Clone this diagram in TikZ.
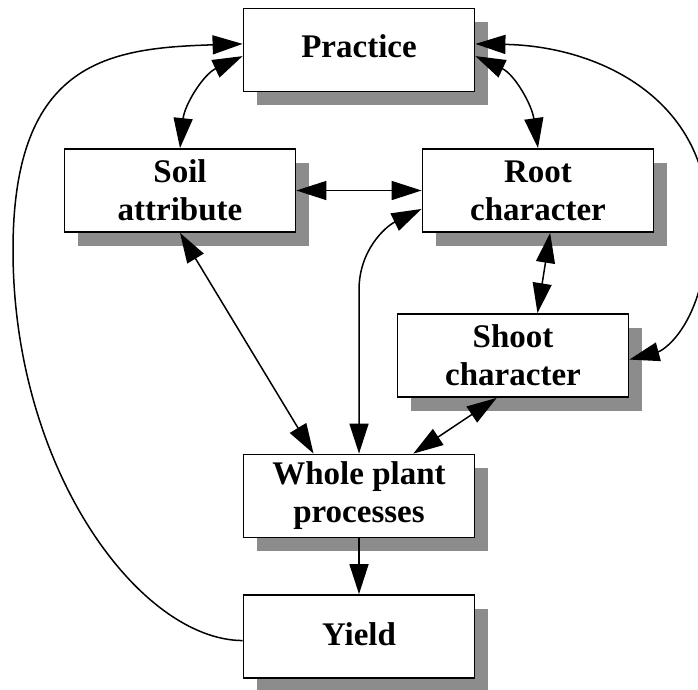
\documentclass[tikz,border=0pt]{standalone}
\usepackage{fontspec}
\setmainfont{Liberation Serif}
\usetikzlibrary{arrows.meta,shadows}

\begin{document}
\begin{tikzpicture}[x=1pt,y=1pt,
    box/.style={draw,line width=1.8pt,fill=white,minimum width=231pt,minimum height=83pt,inner sep=0pt,align=center,
        font=\fontsize{33}{38}\selectfont\bfseries,
        drop shadow={shadow xshift=13.5pt,shadow yshift=-13.5pt,fill=black!45,opacity=1}},
    link/.style={line width=1.5pt,>={Triangle[length=30pt,width=19pt]}}]
    \useasboundingbox (0,0) rectangle (698,-689);
        \node at (359,-50) [box,text depth=7pt] (practice) {Practice};
        \node at (180,-190.5) [box] (soil) {Soil\\attribute};
        \node at (538,-190.5) [box] (root) {Root\\character};
        \node at (513,-355.5) [box] (shoot) {Shoot\\character};
        \node at (359,-496) [box] (whole) {Whole plant\\processes};
        \node at (359,-636.5) [box,text depth=5pt] (yield) {Yield};
        \coordinate (westbend) at (13,-250);
        \coordinate (eastbend) at (708,-220);
        \coordinate (rootbend) at (359,-290);
        \draw[link,<->] (soil.north) to[out=84,in=205] (practice.183);
        \draw[link,<->] (practice.357) to[out=-25,in=98] (root.north);
        \draw[link,<->] (soil.east) -- (root.west);
        \draw[link,<->] (soil.south) -- (whole.137);
        \draw[link,<->] (whole.north) -- (rootbend) to[out=90,in=206] (root.189);
        \draw[link,<->] (root.286) -- (shoot.60);
        \draw[link,<->] (shoot.249) -- (whole.38);
        \draw[link,->] (whole.south) -- (yield.north);
        \draw[link,->] (yield.182) .. controls (140,-640) and (13,-470) .. (westbend) .. controls (13,-60) and (110,-48) .. (practice.177);
        \draw[link,<->] (practice.3) .. controls (600,-46) and (708,-100) .. (eastbend) .. controls (708,-320) and (665,-350) .. (shoot.358);
    \end{tikzpicture}
\end{document}
